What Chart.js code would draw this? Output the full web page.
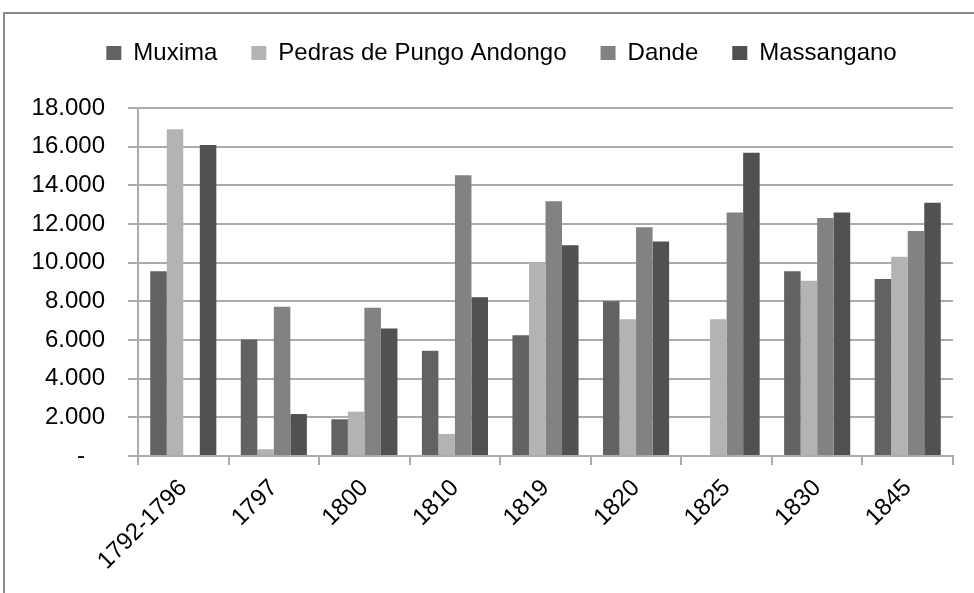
<!DOCTYPE html>
<html>
<head>
<meta charset="utf-8">
<script src="https://cdn.jsdelivr.net/npm/chart.js@4.4.1/dist/chart.umd.min.js"></script>
<style>
    html, body { margin: 0; padding: 0; background: #ffffff; }
    body { width: 974px; height: 593px; position: relative; overflow: hidden; }
    #frame {
        position: absolute; left: 3px; top: 12px; width: 1200px; height: 800px;
        border-top: 2px solid #8a8a8a; border-left: 2px solid #8a8a8a;
    }
    #wrap { position: absolute; left: 0; top: 0; width: 974px; height: 593px; }
</style>
</head>
<body>
<div id="frame"></div>
<div id="wrap"><canvas id="chart" width="974" height="593"></canvas></div>
<script>
const categories = ['1792-1796', '1797', '1800', '1810', '1819', '1820', '1825', '1830', '1845'];
const muxima     = [9550, 6030, 1900, 5450, 6240, 8000, null, 9550, 9160];
const pedras     = [16900, 350, 2290, 1140, 10000, 7070, 7070, 9070, 10310];
const dande      = [null, 7720, 7670, 14520, 13180, 11830, 12590, 12310, 11640];
const massangano = [16080, 2170, 6590, 8210, 10900, 11100, 15690, 12590, 13100];
const yTicks = [0, 2000, 4000, 6000, 8000, 10000, 12000, 14000, 16000, 18000];

const FONT = 'Liberation Sans, Arial, sans-serif';
const gridColor = '#ababab';

function formatTick(v) {
    if (v === 0) return '-   ';
    return String(v).replace(/\B(?=(\d{3})+(?!\d))/g, '.');
}

// push the plot area down below the legend, and nudge the legend right a bit
const legendSpacing = {
    id: 'legendSpacing',
    beforeInit(chart) {
        const fit = chart.legend.fit;
        chart.legend.fit = function () {
            fit.call(this);
            this.height += 33;
        };
    },
    afterLayout(chart) {
        chart.legend.left += 9;
        chart.legend.right += 9;
    }
};

const ctx = document.getElementById('chart').getContext('2d');
new Chart(ctx, {
    type: 'bar',
    data: {
        labels: categories,
        datasets: [
            { label: 'Muxima', data: muxima, backgroundColor: '#626262' },
            { label: 'Pedras de Pungo Andongo', data: pedras, backgroundColor: '#b3b3b3' },
            { label: 'Dande', data: dande, backgroundColor: '#828282' },
            { label: 'Massangano', data: massangano, backgroundColor: '#515151' }
        ]
    },
    options: {
        responsive: false,
        animation: false,
        layout: { padding: { left: 32, right: 21, top: 7, bottom: 0 } },
        datasets: {
            bar: { categoryPercentage: 0.73, barPercentage: 1.0, borderWidth: 0 }
        },
        plugins: {
            legend: {
                position: 'top',
                labels: {
                    color: '#000000',
                    font: { family: FONT, size: 24 },
                    boxWidth: 15,
                    boxHeight: 14,
                    padding: 34
                }
            },
            tooltip: { enabled: false }
        },
        scales: {
            x: {
                grid: {
                    display: true,
                    offset: true,
                    drawOnChartArea: false,
                    tickLength: 9,
                    color: gridColor,
                    lineWidth: 2
                },
                border: { color: gridColor, width: 2 },
                ticks: {
                    color: '#000000',
                    font: { family: FONT, size: 24 },
                    minRotation: 45,
                    maxRotation: 45,
                    padding: 9
                },
                afterFit(scale) { scale.height = 137; }
            },
            y: {
                min: 0,
                max: 18000,
                afterBuildTicks(scale) {
                    scale.ticks = yTicks.map(v => ({ value: v }));
                },
                grid: {
                    color: gridColor,
                    lineWidth: 2,
                    tickLength: 10
                },
                border: { color: gridColor, width: 2 },
                ticks: {
                    color: '#000000',
                    font: { family: FONT, size: 24 },
                    padding: 23,
                    callback: formatTick
                },
                afterFit(scale) { scale.width = 106; }
            }
        }
    },
    plugins: [legendSpacing]
});
</script>
</body>
</html>
